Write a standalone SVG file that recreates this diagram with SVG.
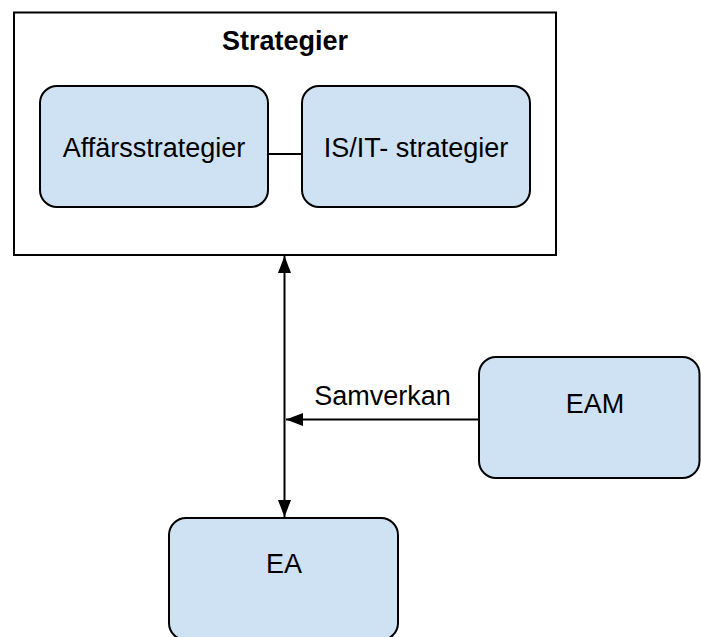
<svg xmlns="http://www.w3.org/2000/svg" width="701" height="637" viewBox="0 0 701 637">
  <style>
    .frame { fill: #ffffff; stroke: #000000; stroke-width: 2; }
    .node { fill: #cfe2f3; stroke: #000000; stroke-width: 2; }
    .label { font-family: "Liberation Sans", Arial, sans-serif; font-size: 27px; fill: #000000; text-anchor: middle; }
    .title { font-weight: bold; }
    .link { fill: none; stroke: #000000; stroke-width: 2; }
  </style>
  <defs>
    <marker id="arrow-end" markerUnits="userSpaceOnUse" markerWidth="18" markerHeight="14" refX="17" refY="6.5" orient="auto">
      <path d="M0,0 L17,6.5 L0,13 Z" fill="#000000"/>
    </marker>
    <marker id="arrow-start" markerUnits="userSpaceOnUse" markerWidth="18" markerHeight="14" refX="0" refY="6.5" orient="auto">
      <path d="M17,0 L0,6.5 L17,13 Z" fill="#000000"/>
    </marker>
  </defs>

  <rect width="701" height="637" fill="#ffffff"/>

  <!-- Strategier container -->
  <g id="strategier">
    <rect class="frame" x="14" y="12.5" width="542" height="242.5"/>
    <text class="label title" x="285" y="50">Strategier</text>
  </g>

  <g id="affarsstrategier">
    <rect class="node" x="40" y="86" width="228" height="121" rx="17" ry="17"/>
    <text class="label" x="154" y="157">Affärsstrategier</text>
  </g>

  <g id="is-it-strategier">
    <rect class="node" x="302" y="86" width="228" height="121" rx="17" ry="17"/>
    <text class="label" x="416" y="157">IS/IT- strategier</text>
  </g>

  <g id="eam">
    <rect class="node" x="479" y="357" width="220.5" height="121" rx="17" ry="17"/>
    <text class="label" x="595" y="413">EAM</text>
  </g>

  <g id="ea">
    <rect class="node" x="169" y="518" width="229" height="122" rx="17" ry="17"/>
    <text class="label" x="284" y="573">EA</text>
  </g>

  <!-- Connectors -->
  <g id="connectors">
    <line class="link" x1="268" y1="154" x2="302" y2="154"/>
    <line class="link" x1="284.5" y1="256" x2="284.5" y2="517" marker-start="url(#arrow-start)" marker-end="url(#arrow-end)"/>
    <line class="link" x1="479" y1="419.5" x2="286" y2="419.5" marker-end="url(#arrow-end)"/>
    <text class="label" x="382.5" y="405">Samverkan</text>
  </g>
</svg>
